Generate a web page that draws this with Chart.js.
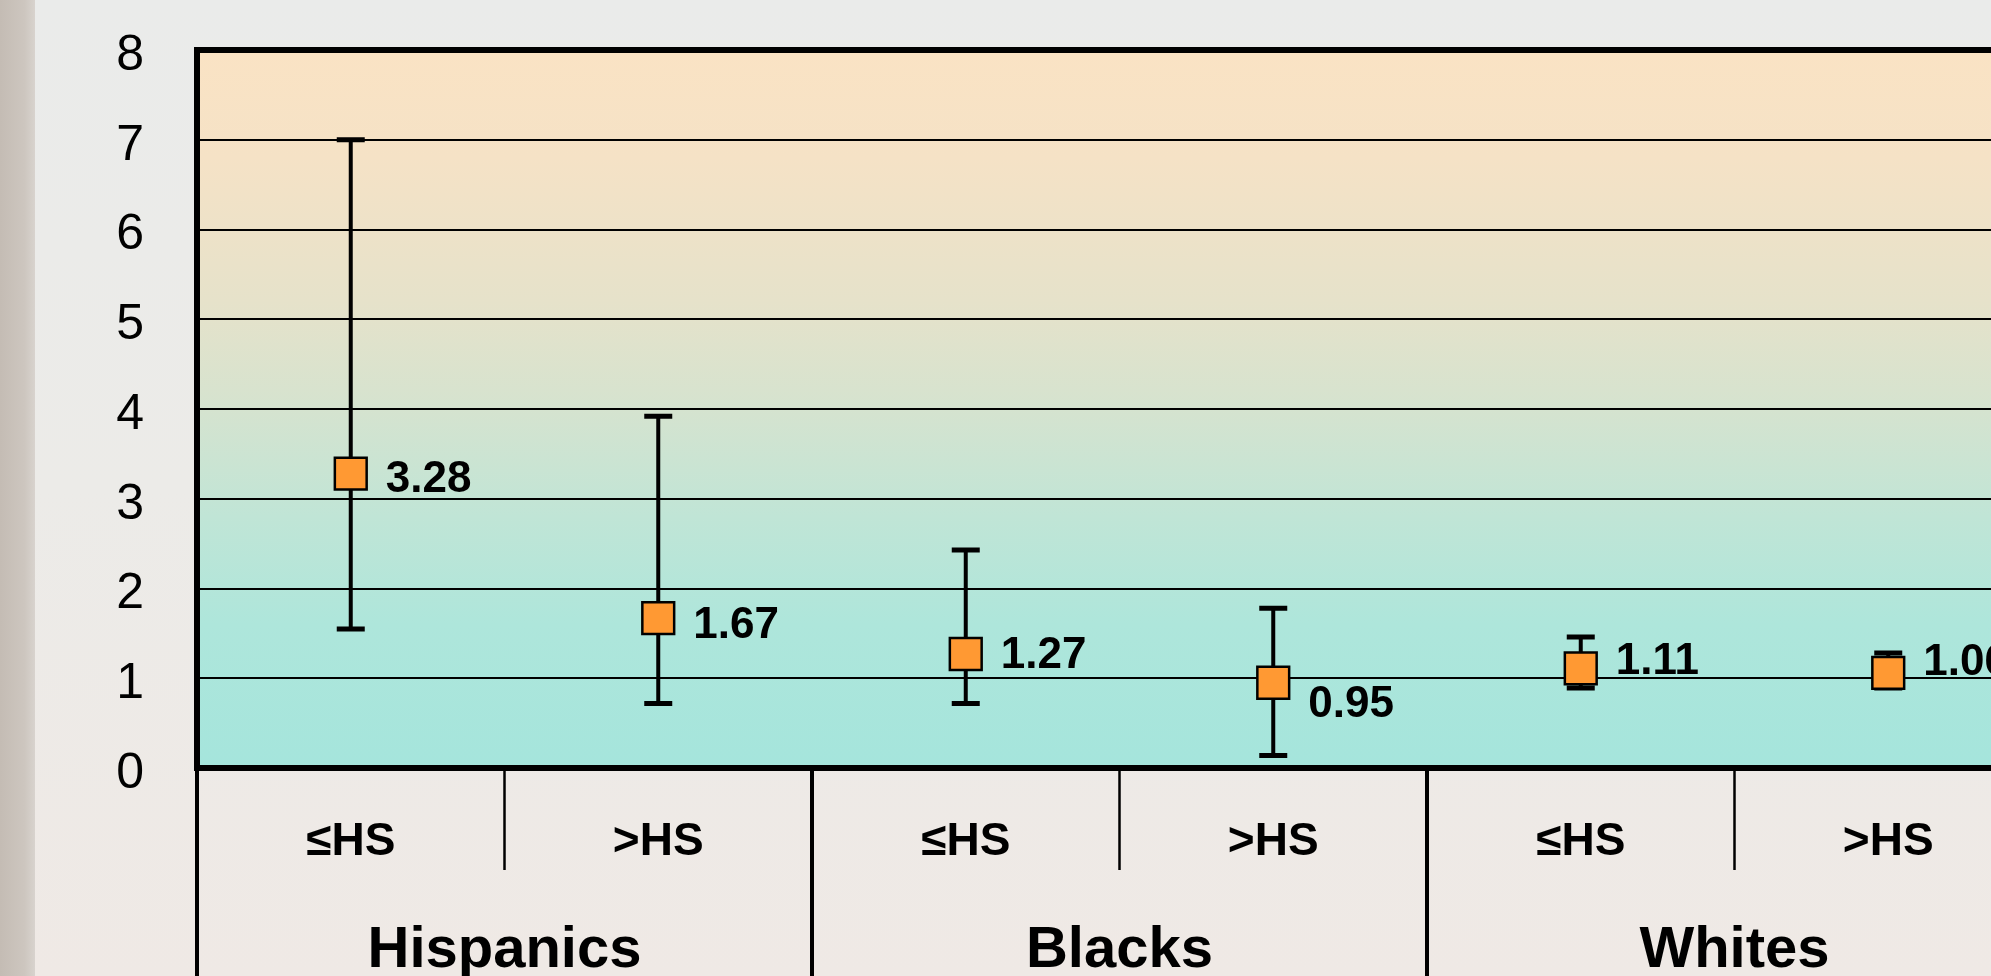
<!DOCTYPE html>
<html>
<head>
<meta charset="utf-8">
<script src="https://cdn.jsdelivr.net/npm/chart.js@4/dist/chart.umd.min.js"></script>
<style>
html, body { margin: 0; padding: 0; width: 1991px; height: 976px; overflow: hidden;
  background: linear-gradient(to bottom, #eaebea 0%, #ecebe8 50%, #efe9e5 100%); }
#strip { position: absolute; left: 0; top: 0; width: 35px; height: 976px;
  background: linear-gradient(to right, #c4bcb4 0%, #cdc6bf 70%, #d8d3ce 100%); }
#wrap { position: absolute; left: 0; top: 0; width: 2080px; height: 976px; }
</style>
</head>
<body>
<div id="strip"></div>
<div id="wrap"><canvas id="c" width="2080" height="976"></canvas></div>
<script>
// ---- data ----
const subLabels   = ['≤HS', '>HS', '≤HS', '>HS', '≤HS', '>HS'];
const groupLabels = ['Hispanics', 'Blacks', 'Whites'];
const oddsRatios  = [3.28, 1.67, 1.27, 0.95, 1.11, 1.06];
const ciLow       = [1.55, 0.72, 0.72, 0.14, 0.89, 0.89];
const ciHigh      = [7.00, 3.92, 2.43, 1.78, 1.46, 1.28];
const yMin = 0, yMax = 8, yStep = 1;

const FONT = '"Liberation Sans", Arial, Helvetica, sans-serif';

const decorPlugin = {
  id: 'decor',
  beforeDraw(chart) {
    const {ctx, chartArea: a} = chart;
    const g = ctx.createLinearGradient(0, a.top, 0, a.bottom);
    g.addColorStop(0.00, '#fae3c4');
    g.addColorStop(0.15, '#f5e2c6');
    g.addColorStop(0.35, '#e6e2ca');
    g.addColorStop(0.50, '#d5e3cf');
    g.addColorStop(0.65, '#c0e5d6');
    g.addColorStop(0.80, '#aee6db');
    g.addColorStop(1.00, '#a5e5dc');
    ctx.save();
    ctx.fillStyle = g;
    ctx.fillRect(a.left, a.top, a.right - a.left, a.bottom - a.top);
    ctx.restore();
  },
  beforeDatasetsDraw(chart, args, opts) {
    const {ctx, chartArea: a, scales} = chart;
    const x = scales.x, y = scales.y;
    const w = x.getPixelForValue(1) - x.getPixelForValue(0);
    ctx.save();
    // category dividers below the axis
    ctx.strokeStyle = '#000';
    for (let k = 0; k <= subLabels.length; k++) {
      const px = x.getPixelForValue(0) - w / 2 + k * w;
      const major = k % 2 === 0;
      ctx.lineWidth = major ? 4 : 2.5;
      ctx.beginPath();
      ctx.moveTo(px, a.bottom);
      ctx.lineTo(px, major ? chart.height : a.bottom + 102);
      ctx.stroke();
    }
    // error bars
    ctx.lineCap = 'butt';
    oddsRatios.forEach((v, i) => {
      const px = x.getPixelForValue(i);
      const yl = y.getPixelForValue(ciLow[i]);
      const yh = y.getPixelForValue(ciHigh[i]);
      ctx.lineWidth = 4;
      ctx.beginPath();
      ctx.moveTo(px, yl); ctx.lineTo(px, yh);
      ctx.stroke();
      ctx.lineWidth = 5;
      ctx.beginPath();
      ctx.moveTo(px - 14, yl); ctx.lineTo(px + 14, yl);
      ctx.moveTo(px - 14, yh); ctx.lineTo(px + 14, yh);
      ctx.stroke();
    });
    ctx.restore();
  },
  afterDatasetsDraw(chart, args, opts) {
    const {ctx, chartArea: a} = chart;
    ctx.save();
    // top border
    ctx.strokeStyle = '#000';
    ctx.lineWidth = 6;
    ctx.beginPath();
    ctx.moveTo(a.left - 3, a.top);
    ctx.lineTo(a.right + 3, a.top);
    ctx.stroke();
    // value labels
    const meta = chart.getDatasetMeta(0);
    ctx.fillStyle = '#000';
    ctx.font = 'bold 44px ' + FONT;
    ctx.textAlign = 'left';
    ctx.textBaseline = 'middle';
    meta.data.forEach((pt, i) => {
      ctx.fillText(oddsRatios[i].toFixed(2), pt.x + opts.dx, pt.y + opts.dy[i]);
    });
    ctx.restore();
  }
};

new Chart(document.getElementById('c'), {
  type: 'line',
  data: {
    labels: subLabels,
    datasets: [{
      data: oddsRatios,
      showLine: false,
      clip: false,
      pointStyle: 'rect',
      pointRadius: 22.5,
      pointHoverRadius: 22.5,
      pointBackgroundColor: '#ff9933',
      pointBorderColor: '#000',
      pointBorderWidth: 2.5
    }]
  },
  plugins: [decorPlugin],
  options: {
    responsive: false,
    maintainAspectRatio: false,
    animation: false,
    events: [],
    layout: { autoPadding: false, padding: { left: 0, top: 50, right: 38, bottom: 0 } },
    plugins: {
      legend: { display: false },
      title: { display: false },
      tooltip: { enabled: false },
      decor: { dx: 35, dy: [6, 8, 2, 22, -7, -10] }
    },
    scales: {
      y: {
        min: yMin, max: yMax,
        ticks: { stepSize: yStep, color: '#000', padding: 53, labelOffset: 6,
                 font: { family: FONT, size: 50 } },
        grid: { color: '#000', lineWidth: 2, drawTicks: false },
        border: { display: true, color: '#000', width: 6 },
        afterFit(axis) { axis.width = 197; axis.paddingTop = 0; axis.paddingBottom = 0; }
      },
      x: {
        type: 'category',
        offset: true,
        weight: 0,
        grid: { display: false, drawTicks: false },
        border: { display: true, color: '#000', width: 6 },
        ticks: { color: '#000', padding: 47, maxRotation: 0, autoSkip: false,
                 font: { family: FONT, size: 46, weight: 'bold' } },
        afterFit(axis) { axis.height = 140; }
      },
      x2: {
        type: 'category',
        position: 'bottom',
        labels: groupLabels,
        offset: true,
        weight: 1,
        grid: { display: false, drawTicks: false },
        border: { display: false },
        ticks: { color: '#000', padding: 8, maxRotation: 0, autoSkip: false,
                 font: { family: FONT, size: 58, weight: 'bold' } },
        afterFit(axis) { axis.height = 68; }
      }
    }
  }
});
</script>
</body>
</html>
